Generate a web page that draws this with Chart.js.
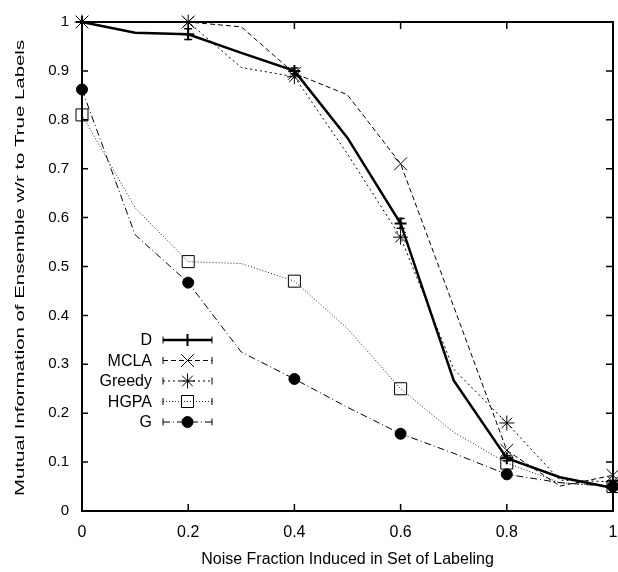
<!DOCTYPE html>
<html><head><meta charset="utf-8">
<script src="https://cdn.jsdelivr.net/npm/chart.js@4/dist/chart.umd.min.js"></script>
<style>html,body{margin:0;padding:0;background:#fff;overflow:hidden;}#wrap{width:623px;height:572px;position:relative;}canvas{display:block;}</style>
</head><body><div id="wrap"><canvas id="c"></canvas></div>
<script>
// ---- data ----
const noise      = [0, 0.1, 0.2, 0.3, 0.4, 0.5, 0.6, 0.7, 0.8, 0.9, 1.0];
const markedAt   = [0, 0.2, 0.4, 0.6, 0.8, 1.0];
const seriesNames = ['D', 'MCLA', 'Greedy', 'HGPA', 'G'];
const dVals      = [1.0, 0.978, 0.975, 0.937, 0.900, 0.763, 0.588, 0.267, 0.108, 0.069, 0.047];
const dErr       = [0, 0, 0.011, 0, 0.006, 0, 0.010, 0, 0.005, 0, 0];
const mclaVals   = [1.0, 1.0, 1.0, 0.990, 0.895, 0.851, 0.710, 0.418, 0.124, 0.051, 0.073];
const greedyVals = [1.0, 1.0, 1.0, 0.907, 0.888, 0.730, 0.560, 0.290, 0.180, 0.063, 0.060];
const hgpaVals   = [0.810, 0.620, 0.510, 0.506, 0.470, 0.373, 0.250, 0.161, 0.098, 0.058, 0.050];
const gVals      = [0.862, 0.565, 0.467, 0.325, 0.270, 0.212, 0.158, 0.118, 0.075, 0.058, 0.050];
const xTicks = [0, 0.2, 0.4, 0.6, 0.8, 1];
const yTicks = [0, 0.1, 0.2, 0.3, 0.4, 0.5, 0.6, 0.7, 0.8, 0.9, 1];
const xTitle = 'Noise Fraction Induced in Set of Labeling';
const yTitle = 'Mutual Information of Ensemble w/r to True Labels';

// ---- styles ----
const REG = '"Liberation Sans", Arial, Helvetica, sans-serif';
const styles = [
  {pointStyle:'cross',    r:6,   bw:2.5, dash:[],          pbw:2,   color:'#000', fill:'#000'},
  {pointStyle:'crossRot', r:9,   bw:1,   dash:[5,3],       pbw:1,   color:'#000', fill:'#000'},
  {pointStyle:'star',     r:7.5, bw:1,   dash:[2,3],       pbw:1,   color:'#000', fill:'#000'},
  {pointStyle:'rect',     r:8.5, bw:1,   dash:[1,2],       pbw:1,   color:'#222', fill:'rgba(0,0,0,0)'},
  {pointStyle:'circle',   r:5.5, bw:1,   dash:[7,3,1,3],   pbw:1,   color:'#000', fill:'#000'}
];
const valueSets = [dVals, mclaVals, greedyVals, hgpaVals, gVals];

const datasets = valueSets.map((vals, i) => {
  const s = styles[i];
  return {
    label: seriesNames[i],
    data: noise.map((x, k) => ({x: x, y: vals[k]})),
    borderColor: s.color,
    backgroundColor: s.fill,
    pointBorderColor: '#000',
    pointBackgroundColor: s.fill,
    borderWidth: s.bw,
    borderDash: s.dash,
    pointStyle: s.pointStyle,
    pointRadius: noise.map(x => markedAt.includes(x) ? s.r : 0),
    pointBorderWidth: s.pbw,
    pointHoverRadius: 0,
    tension: 0,
    fill: false,
    clip: false
  };
});

const framePlugin = {
  id: 'frame',
  beforeDatasetsDraw(chart) {
    const {ctx, chartArea: a, scales: {x, y}} = chart;
    ctx.save();
    ctx.strokeStyle = '#000';
    ctx.setLineDash([]);
    ctx.lineWidth = 1.5;
    ctx.beginPath();
    xTicks.forEach(v => {
      const px = x.getPixelForValue(v);
      ctx.moveTo(px, a.bottom); ctx.lineTo(px, a.bottom - 7);
      ctx.moveTo(px, a.top); ctx.lineTo(px, a.top + 7);
    });
    yTicks.forEach(v => {
      const py = y.getPixelForValue(v);
      ctx.moveTo(a.left, py); ctx.lineTo(a.left + 6, py);
      ctx.moveTo(a.right, py); ctx.lineTo(a.right - 7, py);
    });
    ctx.stroke();
    ctx.lineWidth = 2;
    ctx.strokeRect(a.left, a.top, a.right - a.left, a.bottom - a.top);
    ctx.restore();
  },
  afterDatasetsDraw(chart) {
    const {ctx, scales: {x, y}} = chart;
    ctx.save();
    ctx.strokeStyle = '#000';
    ctx.lineWidth = 1.5;
    ctx.setLineDash([]);
    ctx.beginPath();
    noise.forEach((v, k) => {
      if (!dErr[k]) return;
      const px = x.getPixelForValue(v);
      const y1 = y.getPixelForValue(dVals[k] - dErr[k]);
      const y2 = y.getPixelForValue(dVals[k] + dErr[k]);
      ctx.moveTo(px, y1); ctx.lineTo(px, y2);
      ctx.moveTo(px - 4, y1); ctx.lineTo(px + 4, y1);
      ctx.moveTo(px - 4, y2); ctx.lineTo(px + 4, y2);
    });
    ctx.stroke();
    ctx.restore();
  },
  afterDraw(chart) {
    const {ctx, chartArea: a} = chart;
    ctx.save();
    ctx.fillStyle = '#000';
    ctx.textAlign = 'center';
    ctx.textBaseline = 'middle';
    ctx.font = '16px ' + REG;
    ctx.fillText(xTitle, (a.left + a.right) / 2, 560);
    ctx.save();
    ctx.translate(21, 268);
    ctx.rotate(-Math.PI / 2);
    ctx.scale(1.7, 1);
    ctx.font = '12px ' + REG;
    ctx.fillText(yTitle, 0, 0);
    ctx.restore();
    chart.data.datasets.forEach((ds, i) => {
      const s = styles[i];
      const cy = 340 + i * 20.5;
      ctx.fillStyle = '#000';
      ctx.font = '16px ' + REG;
      ctx.textAlign = 'right';
      ctx.textBaseline = 'middle';
      ctx.fillText(ds.label, 152, cy + 1);
      ctx.strokeStyle = s.color;
      ctx.lineWidth = s.bw;
      ctx.setLineDash(s.dash);
      ctx.beginPath();
      ctx.moveTo(163, cy); ctx.lineTo(212, cy);
      ctx.stroke();
      ctx.setLineDash([]);
      ctx.lineWidth = 1;
      ctx.strokeStyle = '#000';
      ctx.beginPath();
      ctx.moveTo(163, cy - 3.5); ctx.lineTo(163, cy + 3.5);
      ctx.moveTo(212, cy - 3.5); ctx.lineTo(212, cy + 3.5);
      ctx.stroke();
      ctx.fillStyle = s.fill;
      ctx.strokeStyle = '#000';
      ctx.lineWidth = s.pbw;
      Chart.helpers.drawPoint(ctx, {pointStyle: s.pointStyle, radius: s.r, rotation: 0, borderWidth: s.pbw}, 187.5, cy);
    });
    ctx.restore();
  }
};

function fmt(v) { return String(Math.round(v * 10) / 10); }

new Chart(document.getElementById('c'), {
  type: 'line',
  data: { datasets: datasets },
  plugins: [framePlugin],
  options: {
    responsive: true,
    maintainAspectRatio: false,
    animation: false,
    events: [],
    layout: { padding: { top: 22, right: 5, left: 0, bottom: 0 } },
    plugins: { legend: { display: false }, tooltip: { enabled: false } },
    scales: {
      x: {
        type: 'linear', min: 0, max: 1,
        afterBuildTicks: s => { s.ticks = xTicks.map(v => ({value: v})); },
        afterFit: s => { s.height = 61; s.paddingLeft = 0; s.paddingRight = 0; },
        grid: { display: false, drawTicks: false },
        border: { display: false },
        ticks: { color: '#000', padding: 12, maxRotation: 0, font: { family: REG, size: 16 }, callback: v => fmt(v) },
        title: { display: false }
      },
      y: {
        type: 'linear', min: 0, max: 1,
        afterBuildTicks: s => { s.ticks = yTicks.map(v => ({value: v})); },
        afterFit: s => { s.width = 82; s.paddingTop = 0; s.paddingBottom = 0; },
        grid: { display: false, drawTicks: false },
        border: { display: false },
        ticks: { color: '#000', padding: 13, font: { family: REG, size: 15 }, callback: v => fmt(v) },
        title: { display: false }
      }
    }
  }
});
</script>
</body></html>
